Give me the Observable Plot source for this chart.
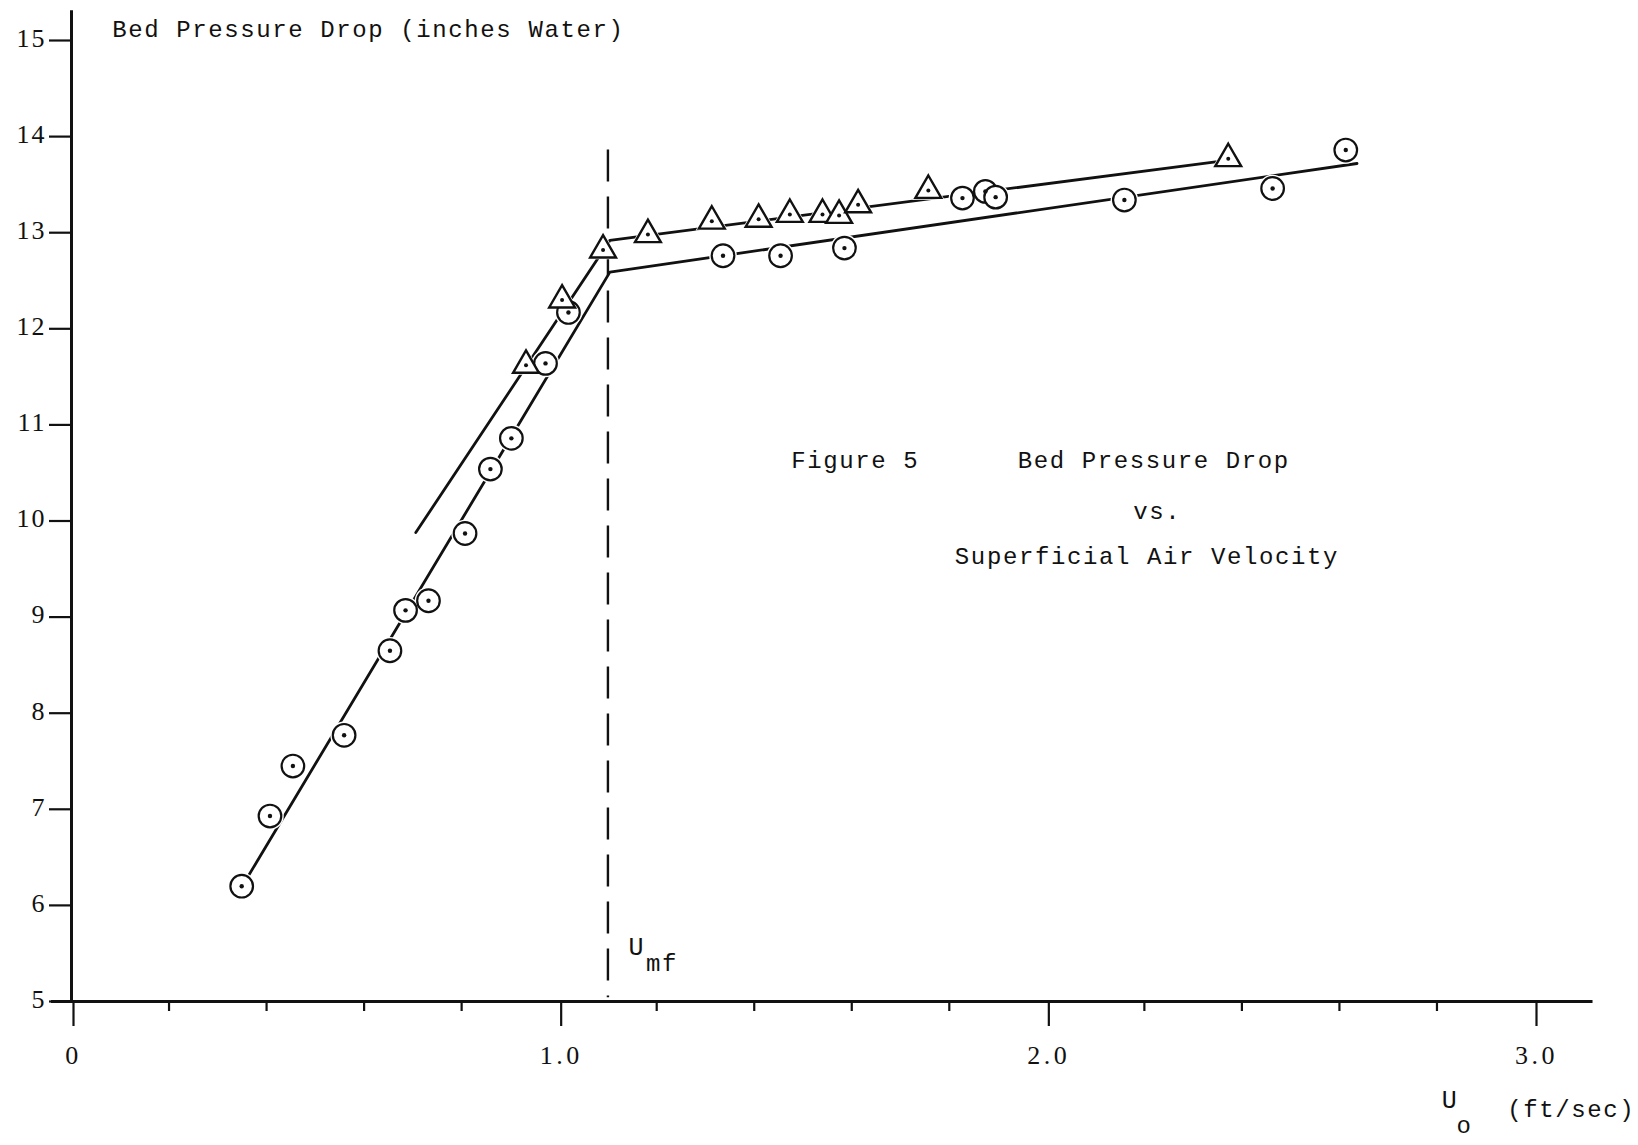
<!DOCTYPE html>
<html><head><meta charset="utf-8">
<script src="https://cdn.jsdelivr.net/npm/d3@7"></script>
<script src="https://cdn.jsdelivr.net/npm/@observablehq/plot@0.6"></script>
<style>
html,body{margin:0;padding:0;background:#fff;}
svg{display:block}
svg text{letter-spacing:1.6px}
g[aria-label="x-axis tick label"], g[aria-label="y-axis tick label"]{font-family:'Liberation Serif', 'DejaVu Serif', serif; font-size:26px;}
g[aria-label="x-axis tick label"] text{letter-spacing:3.5px}
g[aria-label="y-axis tick label"] text{letter-spacing:2px}
</style>
</head><body><div id="chart"></div>
<script>
// Series 1: circles (⊙)
const circleU = [0.349, 0.407, 0.454, 0.559, 0.653, 0.685, 0.732, 0.807, 0.859, 0.902, 0.972, 1.019, 1.336, 1.454, 1.585, 1.827, 1.874, 1.895, 2.159, 2.463, 2.613];
const circleP = [6.20, 6.93, 7.45, 7.77, 8.65, 9.07, 9.17, 9.87, 10.54, 10.86, 11.64, 12.17, 12.76, 12.76, 12.84, 13.36, 13.43, 13.37, 13.34, 13.46, 13.86];
// Series 2: triangles (△)
const triU = [0.932, 1.006, 1.090, 1.182, 1.313, 1.409, 1.473, 1.540, 1.574, 1.613, 1.757, 2.372];
const triP = [11.62, 12.30, 12.82, 12.98, 13.12, 13.14, 13.19, 13.19, 13.18, 13.29, 13.44, 13.77];
// Hand-drawn fitted lines
const fitCircleU = [0.35, 1.104, 2.636];
const fitCircleP = [6.2, 12.59, 13.72];
const fitTriU = [0.706, 1.104, 2.35];
const fitTriP = [9.88, 12.92, 13.74];
// Minimum fluidization velocity
const umf = 1.1;
const umfRange = [13.86, 5.04];
// Axes
const yTicks = [5, 6, 7, 8, 9, 10, 11, 12, 13, 14, 15];
const xMajor = [0, 1, 2, 3];
const xMajorLabels = ["0", "1.0", "2.0", "3.0"];
const xMinor = [0.2, 0.4, 0.6, 0.8, 1.2, 1.4, 1.6, 1.8, 2.2, 2.4, 2.6, 2.8];
// Text annotations (data coordinates)
const yTitle = "Bed Pressure Drop (inches Water)";
const figLeft = [
  {t: "Figure 5", u: 1.476, p: 10.634},
  {t: "Bed Pressure Drop", u: 1.9405, p: 10.634}
];
const figCenter = [
  {t: "vs.", u: 2.2266, p: 10.10},
  {t: "Superficial Air Velocity", u: 2.2052, p: 9.634}
];

const circles = circleU.map((u, i) => ({u, p: circleP[i]}));
const tris = triU.map((u, i) => ({u, p: triP[i]}));
const fitC = fitCircleU.map((u, i) => ({u, p: fitCircleP[i]}));
const fitT = fitTriU.map((u, i) => ({u, p: fitTriP[i]}));
const ink = "#111";

const plot = Plot.plot({
  width: 1638, height: 1145,
  marginLeft: 71, marginRight: 104, marginTop: 40, marginBottom: 144,
  x: {domain: [0, 3]},
  y: {domain: [5, 15]},
  style: {fontFamily: "'Liberation Mono', 'DejaVu Sans Mono', monospace", fontSize: "24px", color: ink, background: "#fff", overflow: "visible"},
  marks: [
    // axis lines
    Plot.ruleX([0], {y1: 5, y2: 15.31, stroke: ink, strokeWidth: 3}),
    Plot.ruleY([5], {x1: -0.041, x2: 3.12, stroke: ink, strokeWidth: 3}),
    // y ticks and labels
    Plot.axisY({ticks: yTicks, tickSize: 22, tickFormat: () => "", label: null, stroke: ink, strokeWidth: 2.2}),
    Plot.axisY({ticks: yTicks, tickSize: 0, tickPadding: 25, dy: -2, label: null, fill: ink, tickFormat: d => String(d)}),
    // x ticks and labels
    Plot.axisX({ticks: xMajor, tickSize: 25, tickPadding: 19, dx: 2, label: null, stroke: ink, fill: ink, strokeWidth: 2.2, tickFormat: d => xMajorLabels[xMajor.indexOf(d)]}),
    Plot.axisX({ticks: xMinor, tickSize: 10, tickFormat: () => "", label: null, stroke: ink, strokeWidth: 2.2}),
    // Umf dashed line
    Plot.ruleX([umf], {y1: umfRange[0], y2: umfRange[1], stroke: ink, strokeWidth: 2.4, strokeDasharray: "32,15"}),
    // fitted lines
    Plot.line(fitC, {x: "u", y: "p", stroke: ink, strokeWidth: 2.8}),
    Plot.line(fitT, {x: "u", y: "p", stroke: ink, strokeWidth: 2.8}),
    // halos
    Plot.dot(circles, {x: "u", y: "p", r: 13.8, fill: "#fff", stroke: null}),
    Plot.dot(tris, {x: "u", y: "p", r: 12, symbol: "triangle", fill: "#fff", stroke: null}),
    // markers
    Plot.dot(circles, {x: "u", y: "p", r: 11.3, fill: "#fff", stroke: ink, strokeWidth: 2.2}),
    Plot.dot(tris, {x: "u", y: "p", r: 9.6, symbol: "triangle", fill: "#fff", stroke: ink, strokeWidth: 2.4}),
    Plot.dot(circles, {x: "u", y: "p", r: 2.2, fill: ink, stroke: null}),
    Plot.dot(tris, {x: "u", y: "p", r: 2, fill: ink, stroke: null}),
    // texts
    Plot.text([yTitle], {x: 0.0837, y: 15.112, text: d => d, textAnchor: "start", fill: ink, fontSize: 24}),
    Plot.text(figLeft, {x: "u", y: "p", text: "t", textAnchor: "start", fill: ink, fontSize: 24}),
    Plot.text(figCenter, {x: "u", y: "p", text: "t", textAnchor: "middle", fill: ink, fontSize: 24}),
    Plot.text(["U"], {x: 1.142, y: 5.572, text: d => d, textAnchor: "start", fill: ink, fontSize: 25}),
    Plot.text(["mf"], {x: 1.178, y: 5.40, text: d => d, textAnchor: "start", fill: ink, fontSize: 24}),
    Plot.text(["U"], {x: 2.81, y: 3.97, text: d => d, textAnchor: "start", fill: ink, fontSize: 25}),
    Plot.text(["o"], {x: 2.84, y: 3.71, text: d => d, textAnchor: "start", fill: ink, fontSize: 24}),
    Plot.text(["(ft/sec)"], {x: 2.944, y: 3.876, text: d => d, textAnchor: "start", fill: ink, fontSize: 24})
  ]
});
document.getElementById("chart").appendChild(plot);
</script>
</body></html>
